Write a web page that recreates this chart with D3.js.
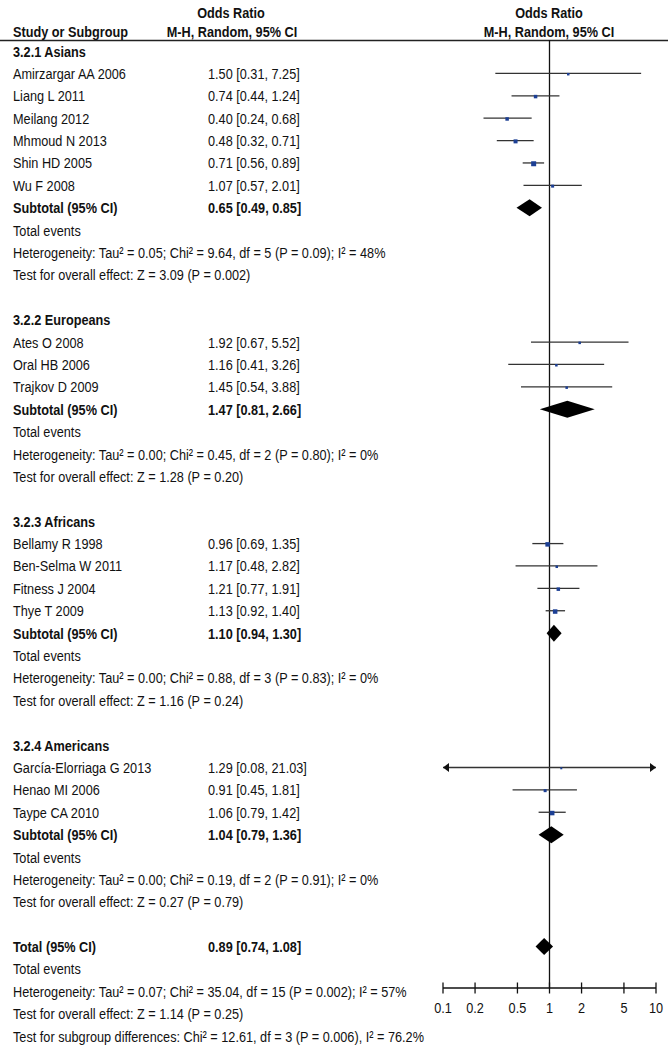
<!DOCTYPE html>
<html><head><meta charset="utf-8">
<script src="https://cdn.jsdelivr.net/npm/d3@7"></script>
<style>body{margin:0;background:#fff}svg{display:block}</style>
</head><body>
<script>
// ---- data ----
const groupNames = ["3.2.1 Asians", "3.2.2 Europeans", "3.2.3 Africans", "3.2.4 Americans"];
const studyNames = ["Amirzargar AA 2006","Liang L 2011","Meilang 2012","Mhmoud N 2013","Shin HD 2005","Wu F 2008",
  "Ates O 2008","Oral HB 2006","Trajkov D 2009",
  "Bellamy R 1998","Ben-Selma W 2011","Fitness J 2004","Thye T 2009",
  "García-Elorriaga G 2013","Henao MI 2006","Taype CA 2010"];
const studyGroup = [0,0,0,0,0,0,1,1,1,2,2,2,2,3,3,3];
const studyOR = [1.50,0.74,0.40,0.48,0.71,1.07,1.92,1.16,1.45,0.96,1.17,1.21,1.13,1.29,0.91,1.06];
const studyLo = [0.31,0.44,0.24,0.32,0.56,0.57,0.67,0.41,0.54,0.69,0.48,0.77,0.92,0.08,0.45,0.79];
const studyHi = [7.25,1.24,0.68,0.71,0.89,2.01,5.52,3.26,3.88,1.35,2.82,1.91,1.40,21.03,1.81,1.42];
const studyWeight = [2.8,5.4,5.4,7.1,11.1,4.0,2.8,2.8,2.8,9.0,2.8,5.4,9.0,1.8,4.0,9.0];
const subOR = [0.65,1.47,1.10,1.04];
const subLo = [0.49,0.81,0.94,0.79];
const subHi = [0.85,2.66,1.30,1.36];
const subHet = ["Heterogeneity: Tau² = 0.05; Chi² = 9.64, df = 5 (P = 0.09); I² = 48%",
  "Heterogeneity: Tau² = 0.00; Chi² = 0.45, df = 2 (P = 0.80); I² = 0%",
  "Heterogeneity: Tau² = 0.00; Chi² = 0.88, df = 3 (P = 0.83); I² = 0%",
  "Heterogeneity: Tau² = 0.00; Chi² = 0.19, df = 2 (P = 0.91); I² = 0%"];
const subTest = ["Test for overall effect: Z = 3.09 (P = 0.002)",
  "Test for overall effect: Z = 1.28 (P = 0.20)",
  "Test for overall effect: Z = 1.16 (P = 0.24)",
  "Test for overall effect: Z = 0.27 (P = 0.79)"];
const totalOR = [0.89], totalLo = [0.74], totalHi = [1.08];
const totalHet = "Heterogeneity: Tau² = 0.07; Chi² = 35.04, df = 15 (P = 0.002); I² = 57%";
const totalTest = "Test for overall effect: Z = 1.14 (P = 0.25)";
const subgroupTest = "Test for subgroup differences: Chi² = 12.61, df = 3 (P = 0.006), I² = 76.2%";
const tickValues = [0.1,0.2,0.5,1,2,5,10];
const tickLabels = ["0.1","0.2","0.5","1","2","5","10"];

// ---- build rows ----
const rows = [];
const fmt = v => v.toFixed(2);
groupNames.forEach((g, gi) => {
  rows.push({type:"group", label:g});
  studyNames.forEach((s, i) => {
    if (studyGroup[i] === gi) rows.push({type:"study", label:s, or:studyOR[i], lo:studyLo[i], hi:studyHi[i], w:studyWeight[i]});
  });
  rows.push({type:"sub", label:"Subtotal (95% CI)", or:subOR[gi], lo:subLo[gi], hi:subHi[gi]});
  rows.push({type:"text", label:"Total events"});
  rows.push({type:"text", label:subHet[gi]});
  rows.push({type:"text", label:subTest[gi]});
  rows.push({type:"blank"});
});
rows.push({type:"sub", label:"Total (95% CI)", or:totalOR[0], lo:totalLo[0], hi:totalHi[0]});
rows.push({type:"text", label:"Total events"});
rows.push({type:"text", label:totalHet});
rows.push({type:"text", label:totalTest});
rows.push({type:"text", label:subgroupTest});

// ---- draw ----
const W = 672, H = 1049;
const svg = d3.select("body").append("svg").attr("width", W).attr("height", H);
const font = "'Liberation Sans',Arial,sans-serif";
const fs = 15.5, sx = 0.82;
const y0 = 51, rowH = 22.39;
const yPos = i => y0 + i * rowH;
const x = d3.scaleLog().domain([0.1, 10]).range([443, 656]);
const axisY = 988;

function label(g, tx, ty, s, opts = {}) {
  return g.append("text")
    .attr("transform", `translate(${tx},${ty}) scale(${sx},1)`)
    .attr("text-anchor", opts.anchor || "start")
    .attr("font-weight", opts.bold ? "bold" : null)
    .text(s);
}

// header
const hdr = svg.append("g").attr("font-family", font).attr("font-size", fs).attr("fill", "#111");
label(hdr, 13, 37, "Study or Subgroup", {bold:true});
label(hdr, 231, 18, "Odds Ratio", {bold:true, anchor:"middle"});
label(hdr, 232, 37, "M-H, Random, 95% CI", {bold:true, anchor:"middle"});
label(hdr, 549, 18, "Odds Ratio", {bold:true, anchor:"middle"});
label(hdr, 549, 37, "M-H, Random, 95% CI", {bold:true, anchor:"middle"});
svg.append("line").attr("x1", 0).attr("x2", 668).attr("y1", 40.5).attr("y2", 40.5).attr("stroke", "#222").attr("stroke-width", 1.3);

// null line
svg.append("line").attr("x1", x(1)).attr("x2", x(1)).attr("y1", 40).attr("y2", axisY)
  .attr("stroke", "#111").attr("stroke-width", 1.3);

const txt = svg.append("g").attr("font-family", font).attr("font-size", fs).attr("fill", "#111");
rows.forEach((r, i) => {
  const y = yPos(i);
  if (r.type === "blank") return;
  const bold = r.type === "group" || r.type === "sub";
  label(txt, 13, y + 5.5, r.label, {bold});
  if (r.type === "study" || r.type === "sub") {
    label(txt, 208, y + 5.5, `${fmt(r.or)} [${fmt(r.lo)}, ${fmt(r.hi)}]`, {bold});
  }
});

const plot = svg.append("g");
rows.forEach((r, i) => {
  const y = yPos(i);
  if (r.type === "study") {
    const lo = Math.max(r.lo, 0.1), hi = Math.min(r.hi, 10);
    plot.append("line").attr("x1", x(lo)).attr("x2", x(hi)).attr("y1", y).attr("y2", y)
      .attr("stroke", "#333").attr("stroke-width", 1.3);
    if (r.lo < 0.1) plot.append("path").attr("d", `M${x(0.1)},${y} l6,-4.5 l0,9 Z`).attr("fill", "#111");
    if (r.hi > 10) plot.append("path").attr("d", `M${x(10)},${y} l-6,-4.5 l0,9 Z`).attr("fill", "#111");
    const s = Math.sqrt(r.w) * 1.5;
    plot.append("rect").attr("x", x(r.or) - s / 2).attr("y", y - s / 2 + 0.8).attr("width", s).attr("height", s)
      .attr("fill", "#1c3f94");
  } else if (r.type === "sub") {
    const h = 8.5;
    plot.append("path")
      .attr("d", `M${x(r.lo)},${y} L${x(r.or)},${y - h} L${x(r.hi)},${y} L${x(r.or)},${y + h} Z`)
      .attr("fill", "#000");
  }
});

// axis
const ax = svg.append("g").attr("transform", `translate(0,${axisY})`);
ax.append("line").attr("x1", x(0.1)).attr("x2", x(10)).attr("y1", 0).attr("y2", 0).attr("stroke", "#111").attr("stroke-width", 1.3);
ax.selectAll("line.tk").data(tickValues).join("line").attr("class", "tk")
  .attr("x1", d => x(d)).attr("x2", d => x(d)).attr("y1", -5.5).attr("y2", 5.5)
  .attr("stroke", "#111").attr("stroke-width", 1.3);
const axt = ax.append("g").attr("font-family", font).attr("font-size", fs).attr("fill", "#111");
tickValues.forEach((d, i) => label(axt, x(d), 25, tickLabels[i], {anchor:"middle"}));
</script>
</body></html>
